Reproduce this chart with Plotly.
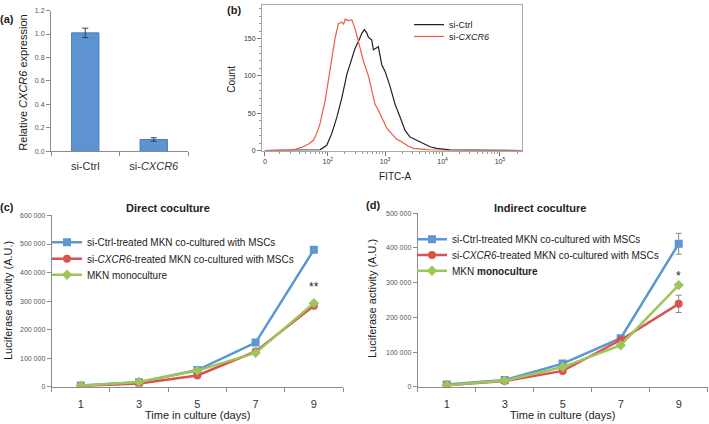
import numpy as np
import plotly.graph_objects as go

W, H = 709, 424
FONT = "Liberation Sans, Arial, sans-serif"

# ---- (a) qPCR ----
a_labels = ["si-Ctrl", "si-<i>CXCR6</i>"]
a_values = [1.01, 0.10]
a_err = [0.04, 0.015]

# ---- (b) flow cytometry histograms (FITC-A value, count) ----
ctrl_fitc = [0, 30, 73, 96, 118, 145, 177, 216, 264, 301, 344, 394, 437, 477, 513, 587, 627, 718, 765, 877,
             1000, 1222, 1493, 1824, 2228, 2723, 3556, 4634, 6067, 7925, 10190, 13520, 30000, 100000, 240000]
ctrl_count = [0, 0, 1, 7, 23, 45, 71, 102, 124, 137, 146, 157, 162, 158, 152, 148, 135, 138, 139, 115,
              106, 86, 62, 45, 27, 18, 14, 10, 5, 3, 2, 1, 0.5, 0, 0]
cxcr6_fitc = [0, 10, 19.5, 26, 36, 46, 56, 65, 73, 90, 110, 134, 154, 177, 190, 202, 230, 264, 301, 344,
              420, 513, 594, 670, 755, 877, 1072, 1222, 1377, 1600, 1824, 2080, 2512, 3105, 4055, 6026, 10965, 100000, 240000]
cxcr6_count = [0, 0, 1, 2, 5, 9, 14, 25, 36, 67, 106, 150, 170, 172, 169, 176, 174, 175, 163, 146,
               120, 100, 80, 62, 55, 45, 30, 25, 20, 15, 13, 10, 6, 3, 2, 1, 0, 0, 0]

# ---- (c)/(d) luciferase time course ----
days = [1, 3, 5, 7, 9]
c_ctrl = [5000, 16000, 59000, 155000, 480000]
c_cxcr6 = [3000, 12000, 40000, 124000, 284000]
c_mono = [4000, 17000, 57000, 119000, 293000]
d_ctrl = [7000, 20000, 67000, 140000, 412000]
d_ctrl_err = [0, 0, 0, 0, 30000]
d_cxcr6 = [5000, 17000, 46000, 135000, 239000]
d_cxcr6_err = [0, 0, 0, 0, 25000]
d_mono = [5000, 18000, 57000, 120000, 293000]

BLUE, RED, GREEN = "#5B97D3", "#D9534F", "#9CC55A"


def px(x):
    return x / W


def py(y):
    return 1 - y / H


def logicle(v):
    return np.arcsinh(np.asarray(v, dtype=float) / 16.2) / np.log(10)


def sp(v):
    return f"{v:,}".replace(",", " ")


fig = go.Figure()

# (a)
fig.add_trace(go.Bar(x=[1, 3], y=a_values, width=0.8, marker=dict(color="#5E93D1", line=dict(color="#4A7FC0", width=1)),
                     error_y=dict(type="data", array=a_err, color="#2B3F5F", thickness=1, width=3),
                     xaxis="x", yaxis="y", showlegend=False))

# (b)
fig.add_trace(go.Scatter(x=logicle(ctrl_fitc), y=ctrl_count, mode="lines", line=dict(color="#222222", width=1.2),
                         name="si-Ctrl", xaxis="x2", yaxis="y2", legend="legend"))
fig.add_trace(go.Scatter(x=logicle(cxcr6_fitc), y=cxcr6_count, mode="lines", line=dict(color="#F05A40", width=1.2),
                         name="si-<i>CXCR6</i>", xaxis="x2", yaxis="y2", legend="legend2"))

# (c)
series_c = [
    (c_ctrl, None, BLUE, "square", 8, "si-Ctrl-treated MKN co-cultured with MSCs"),
    (c_cxcr6, None, RED, "circle", 8, "si-<i>CXCR6</i>-treated MKN co-cultured with MSCs"),
    (c_mono, None, GREEN, "diamond", 8, "MKN monoculture"),
]
series_d = [
    (d_ctrl, d_ctrl_err, BLUE, "square", 8, "si-Ctrl-treated MKN co-cultured with MSCs"),
    (d_cxcr6, d_cxcr6_err, RED, "circle", 8, "si-<i>CXCR6</i>-treated MKN co-cultured with MSCs"),
    (d_mono, None, GREEN, "diamond", 8, "MKN <b>monoculture</b>"),
]
n = 3
for ax, series in (("3", series_c), ("4", series_d)):
    for vals, err, col, sym, size, name in series:
        fig.add_trace(go.Scatter(
            x=days, y=vals, mode="lines+markers", name=name,
            line=dict(color=col, width=2.5), marker=dict(color=col, symbol=sym, size=size),
            error_y=dict(type="data", array=err, color="#888888", thickness=1, width=3, visible=err is not None),
            xaxis="x" + ax, yaxis="y" + ax, legend="legend" + str(n)))
        n += 1

axcol = "#8C8C8C"
tick_small = dict(family=FONT, size=7, color="#555555")

layout = dict(
    width=W, height=H, margin=dict(l=0, r=0, t=0, b=0),
    paper_bgcolor="white", plot_bgcolor="white",
    font=dict(family=FONT, color="#333333"),
    # (a)
    xaxis=dict(domain=[px(51), px(188)], range=[0, 4], tickvals=[1, 3], ticktext=a_labels, ticks="",
               tickfont=dict(family=FONT, size=11, color="#333333"), ticklabelstandoff=5,
               showline=True, linecolor=axcol, showgrid=False,
               zeroline=False, minor=dict(tickvals=[0, 2, 4], ticks="outside", ticklen=4, tickcolor=axcol),
               anchor="y"),
    yaxis=dict(domain=[py(149.7), py(6.7)], range=[0, 1.2], dtick=0.2, tickformat=".1f", ticks="outside", ticklen=4,
               tickcolor=axcol, tickfont=tick_small, showline=True, linecolor=axcol, showgrid=False, zeroline=False,
               anchor="x"),
    # (b)
    xaxis2=dict(domain=[px(262), px(522)], range=[-0.05, 4.475],
                tickvals=list(logicle([0, 100, 1000, 10000, 100000])),
                ticktext=["0", "10<sup>2</sup>", "10<sup>3</sup>", "10<sup>4</sup>", "10<sup>5</sup>"],
                ticks="outside", ticklen=4, tickcolor="#777777", tickfont=dict(family=FONT, size=7, color="#333333"),
                minor=dict(tickvals=list(logicle([10, 20, 30, 40, 50, 60, 70, 80, 90] +
                                                 [m * 10 ** e for e in (2, 3, 4) for m in range(2, 10)] + [200000])),
                           ticks="outside", ticklen=2, tickcolor="#999999"),
                showline=True, mirror=True, linecolor="#AAAAAA", showgrid=False, zeroline=False, anchor="y2"),
    yaxis2=dict(domain=[py(149), py(1)], range=[0, 195], tickvals=[0, 50, 100, 150], ticks="outside", ticklen=4,
                tickcolor="#777777", tickfont=dict(family=FONT, size=7, color="#333333"),
                minor=dict(dtick=10, ticks="outside", ticklen=2, tickcolor="#999999"),
                showline=True, mirror=True, linecolor="#AAAAAA", showgrid=False, zeroline=False, anchor="x2"),
)

for ax, left, right, top, ymax in (("3", 51.7, 343, 215, 600000), ("4", 417.7, 707.7, 212.7, 500000)):
    yt = list(range(0, ymax + 1, 100000))
    layout["xaxis" + ax] = dict(domain=[px(left), px(right)], range=[0, 10], tickvals=days, ticks="",
                                tickfont=dict(family=FONT, size=11, color="#333333"), ticklabelstandoff=7,
                                showline=True, linecolor=axcol, showgrid=False, zeroline=False,
                                minor=dict(tickvals=[0, 2, 4, 6, 8, 10], ticks="outside", ticklen=4, tickcolor=axcol),
                                anchor="y" + ax)
    layout["yaxis" + ax] = dict(domain=[py(389.3), py(top)], range=[0, ymax], tickvals=yt, ticktext=[sp(v) for v in yt],
                                ticks="outside", ticklen=4, tickcolor=axcol, tickfont=tick_small, showline=True,
                                linecolor=axcol, showgrid=False, zeroline=False, anchor="x" + ax)

# legends, one per row
leg_rows = [(409, 21, 9), (409, 33, 9),
            (47, 242.3, 10), (47, 259, 10), (47, 275.3, 10),
            (412, 239.3, 10), (412, 255.3, 10), (412, 271.3, 10)]
for i, (lx, ly, fs) in enumerate(leg_rows):
    key = "legend" if i == 0 else "legend" + str(i + 1)
    layout[key] = dict(x=px(lx), y=py(ly), xanchor="left", yanchor="middle", bgcolor="rgba(0,0,0,0)",
                       font=dict(family=FONT, size=fs, color="#222222"))

fig.update_layout(**layout)

ann = [
    dict(x=7, y=15, text="<b>(a)</b>", size=11),
    dict(x=234, y=6, text="<b>(b)</b>", size=11),
    dict(x=7, y=206, text="<b>(c)</b>", size=11),
    dict(x=373, y=204, text="<b>(d)</b>", size=11),
    dict(x=23, y=80, text="Relative <i>CXCR6</i> expression", size=11, angle=-90),
    dict(x=232, y=77, text="Count", size=10, angle=-90),
    dict(x=395, y=175, text="FITC-A", size=10),
    dict(x=168, y=207, text="<b>Direct coculture</b>", size=11),
    dict(x=540, y=207, text="<b>Indirect coculture</b>", size=11),
    dict(x=197, y=418, text="Time in culture (days)", size=11),
    dict(x=562, y=418, text="Time in culture (days)", size=11),
    dict(x=8, y=302, text="Luciferase activity (A.U.)", size=11, angle=-90),
    dict(x=372, y=300, text="Luciferase activity (A.U.)", size=11, angle=-90),
]
for a in ann:
    fig.add_annotation(x=px(a["x"]), y=py(a["y"]), xref="paper", yref="paper", text=a["text"], showarrow=False,
                       textangle=a.get("angle", 0), xanchor="center", yanchor="middle",
                       font=dict(family=FONT, size=a["size"], color="#222222"))

fig.add_annotation(x=9, y=350000, xref="x3", yref="y3", text="**", showarrow=False, yanchor="middle",
                   font=dict(family=FONT, size=12, color="#222222"))
fig.add_annotation(x=9, y=318000, xref="x4", yref="y4", text="*", showarrow=False, yanchor="middle",
                   font=dict(family=FONT, size=12, color="#222222"))

# page body has an 8px default margin; drop it so the figure fills the window
fig.write_html("out.html", config={"displayModeBar": False},
               post_script="document.body.style.margin='0';")
